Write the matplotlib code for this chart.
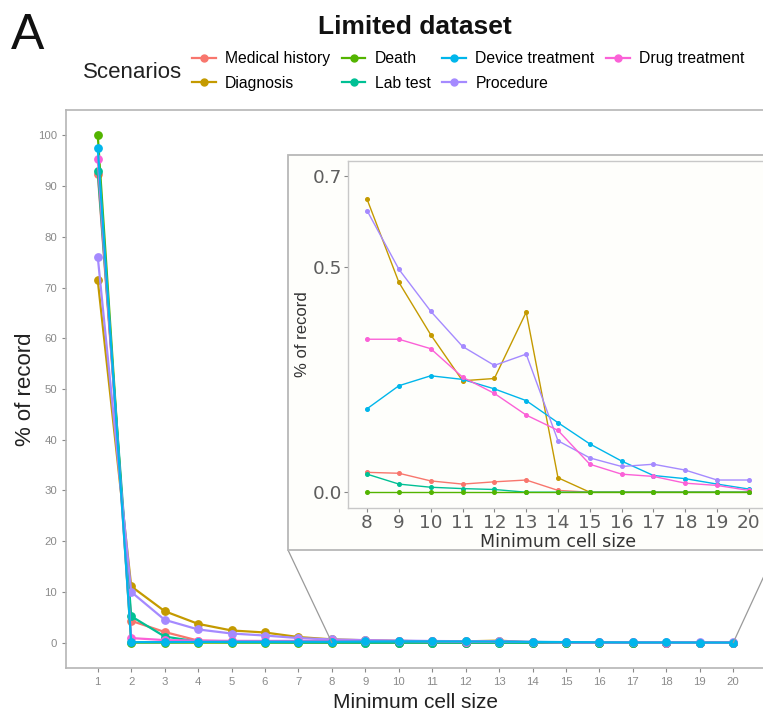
import matplotlib
matplotlib.use("Agg")
import matplotlib.pyplot as plt
from matplotlib.patches import Rectangle, ConnectionPatch
from matplotlib.lines import Line2D
import numpy as np

plt.rcParams['font.family'] = ['Liberation Sans', 'DejaVu Sans']

# ---------------- data ----------------
min_cell_size = list(range(1, 21))
scenarios = ["Medical history", "Diagnosis", "Death", "Lab test",
             "Device treatment", "Procedure", "Drug treatment"]
colors = ["#F8766D", "#C49A00", "#53B400", "#00C094", "#00B6EB", "#A58AFF", "#FB61D7"]

medical_history = [92.4, 4.3, 2.1, 0.4, 0.25, 0.15, 0.08, 0.044, 0.042, 0.025, 0.018,
                   0.023, 0.027, 0.004, 0.0, 0.0, 0.0, 0.0, 0.0, 0.0]
diagnosis = [71.4, 11.1, 6.2, 3.7, 2.4, 2.0, 1.1, 0.649, 0.465, 0.349, 0.247,
             0.252, 0.399, 0.032, 0.0, 0.0, 0.0, 0.0, 0.0, 0.0]
death = [100.0, 0.0, 0.0, 0.0, 0.0, 0.0, 0.0, 0.0, 0.0, 0.0, 0.0,
         0.0, 0.0, 0.0, 0.0, 0.0, 0.0, 0.0, 0.0, 0.0]
lab_test = [93.0, 5.2, 1.2, 0.2, 0.1, 0.08, 0.05, 0.040, 0.018, 0.011, 0.008,
            0.006, 0.0, 0.0, 0.0, 0.0, 0.0, 0.0, 0.0, 0.0]
device_treatment = [97.5, 0.1, 0.1, 0.15, 0.17, 0.18, 0.18, 0.185, 0.236, 0.258, 0.250,
                    0.229, 0.203, 0.154, 0.107, 0.069, 0.037, 0.030, 0.018, 0.007]
procedure = [76.0, 10.0, 4.5, 2.6, 1.8, 1.4, 0.9, 0.624, 0.494, 0.401, 0.323,
             0.281, 0.306, 0.114, 0.076, 0.057, 0.062, 0.049, 0.027, 0.027]
drug_treatment = [95.4, 0.9, 0.5, 0.4, 0.35, 0.34, 0.34, 0.339, 0.339, 0.318, 0.255,
                  0.219, 0.171, 0.137, 0.062, 0.040, 0.035, 0.020, 0.015, 0.004]
series = [medical_history, diagnosis, death, lab_test,
          device_treatment, procedure, drug_treatment]

inset_start = 8
inset_yticks = [0.0, 0.5, 0.7]

# ---------------- figure ----------------
W, H = 763, 713
fig = plt.figure(figsize=(W / 100, H / 100), dpi=100)

def fx(px):
    return px / W

def fy(py):
    return 1 - py / H

# main axes
ax = fig.add_axes([fx(66), fy(668), fx(765) - fx(66), fy(110) - fy(668)])
x = np.array(min_cell_size)
for name, vals, col in zip(scenarios, series, colors):
    z = 4 if name == "Device treatment" else 3
    ax.plot(x, vals, color=col, lw=1.6, marker='o', ms=5.3, mec=col, mfc=col,
            clip_on=False, zorder=z)
ax.set_xlim(0.05, 20.95)
ax.set_ylim(-5, 105)
ax.set_xticks(min_cell_size)
ax.set_yticks(range(0, 101, 10))
ax.tick_params(labelsize=8.2, colors='#8a8a8a', length=3, width=0.8, labelcolor='#8a8a8a')
for s in ax.spines.values():
    s.set_color('#b5b5b5')
    s.set_linewidth(1.2)
ax.spines['right'].set_visible(False)
ax.set_xlabel("Minimum cell size", fontsize=15, color='#222222', labelpad=4)
ax.set_ylabel("% of record", fontsize=16, color='#222222', labelpad=1)

# inset outer box
box = Rectangle((fx(288), fy(550)), fx(776) - fx(288), fy(155) - fy(550),
                transform=fig.transFigure, facecolor='#fefefb', edgecolor='#b8b8b8',
                lw=1.3, zorder=3)
fig.patches.append(box)

# connector lines
for xd, (px, py) in [(inset_start, (288, 550)), (min_cell_size[-1], (776, 550))]:
    cp = ConnectionPatch(xyA=(xd, 0), coordsA=ax.transData,
                         xyB=(fx(px), fy(py)), coordsB=fig.transFigure,
                         color='#9a9a9a', lw=0.9, zorder=2)
    fig.add_artist(cp)

# inset axes
axi = fig.add_axes([fx(348), fy(508), fx(768) - fx(348), fy(161) - fy(508)])
axi.set_zorder(5)
axi.set_facecolor('#fefefb')
xi = x[inset_start - 1:]
for i, (vals, col) in enumerate(zip(series, colors)):
    z = 4 if scenarios[i] == "Death" else 2
    axi.plot(xi, vals[inset_start - 1:], color=col, lw=1.0, marker='o', ms=2.6,
             mec=col, mfc=col, zorder=z)
axi.set_xlim(7.4, 20.6)
axi.set_ylim(-0.035, 0.734)
axi.set_xticks(min_cell_size[inset_start - 1:])
axi.set_yticks(inset_yticks)
axi.set_yticklabels([f"{v:.1f}" for v in inset_yticks])
axi.tick_params(labelsize=13.3, colors='#888888', labelcolor='#5e5e5e', length=3, width=0.8, pad=1.5)
for lab in axi.get_xticklabels() + axi.get_yticklabels():
    lab.set_family('DejaVu Sans')
for s in axi.spines.values():
    s.set_color('#c8c8c8')
    s.set_linewidth(1.0)
axi.set_xlabel("Minimum cell size", fontsize=12.5, color='#333333', labelpad=0.5,
               family='DejaVu Sans')
axi.set_ylabel("% of record", fontsize=12, color='#333333', labelpad=2)

# title and panel letter
fig.text(fx(415), fy(27), "Limited dataset", fontsize=19, fontweight='bold',
         ha='center', va='center', color='#111111')
fig.text(fx(11), fy(36), "A", fontsize=36, ha='left', va='center', color='#111111')

# legend
fig.text(fx(83), fy(72), "Scenarios", fontsize=16, ha='left', va='center', color='#222222')
handles = [Line2D([0], [0], color=c, lw=1.6, marker='o', ms=5, mfc=c, mec=c) for c in colors]
fig.legend(handles, scenarios, loc='upper left', bbox_to_anchor=(fx(192), fy(51)),
           ncol=4, frameon=False, fontsize=11.3, handlelength=1.5, handletextpad=0.6,
           columnspacing=0.75, labelspacing=0.62, borderaxespad=0, borderpad=0)

fig.savefig("out.png", dpi=100)
